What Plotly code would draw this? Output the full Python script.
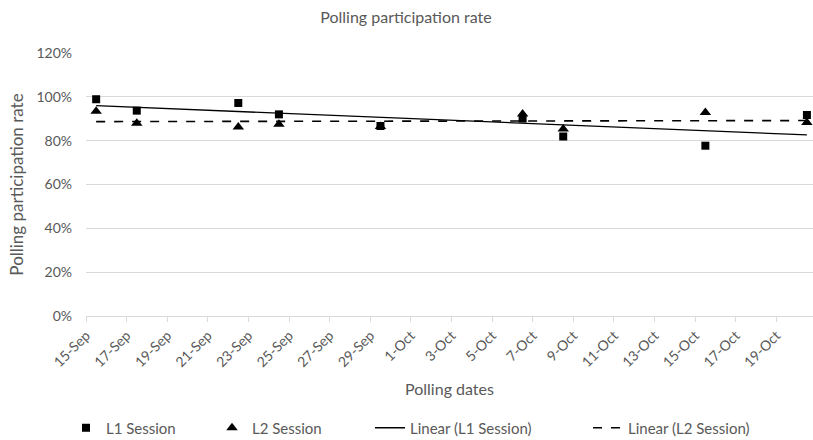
import numpy as np
import pandas as pd
import plotly.graph_objects as go

# ---- data ----
dates = ["2021-09-15", "2021-09-17", "2021-09-22", "2021-09-24", "2021-09-29",
         "2021-10-06", "2021-10-08", "2021-10-15", "2021-10-20"]
l1_session = [0.989, 0.937, 0.972, 0.920, 0.867, 0.901, 0.819, 0.777, 0.917]
l2_session = [0.934, 0.879, 0.862, 0.875, 0.865, 0.922, 0.853, 0.929, 0.883]
tick_step_days = 2

TXT = "#595959"
GRID = "#d9d9d9"
FONT = "Lato, 'Open Sans', sans-serif"

# ---- linear trendlines (least squares on day number, like Excel) ----
d = pd.to_datetime(dates)
days = np.array([(x - d[0]).days for x in d], dtype=float)
c1 = np.polyfit(days, l1_session, 1)
c2 = np.polyfit(days, l2_session, 1)
trend_x = [dates[0], dates[-1]]
trend1 = [np.polyval(c1, days[0]), np.polyval(c1, days[-1])]
trend2 = [np.polyval(c2, days[0]), np.polyval(c2, days[-1])]

period = dict(xperiod=86400000, xperiodalignment="middle")

fig = go.Figure()
fig.add_trace(go.Scatter(x=trend_x, y=trend1, mode="lines", name="Linear (L1 Session)",
                         line=dict(color="black", width=1.3), legend="legend3",
                         cliponaxis=False, **period))
fig.add_trace(go.Scatter(x=trend_x, y=trend2, mode="lines", name="Linear (L2 Session)",
                         line=dict(color="black", width=1.6, dash="dash"), legend="legend4",
                         cliponaxis=False, **period))
fig.add_trace(go.Scatter(x=dates, y=l1_session, mode="markers", name="L1 Session",
                         marker=dict(symbol="square", size=8, color="black"), legend="legend",
                         cliponaxis=False, **period))
fig.add_trace(go.Scatter(x=dates, y=l2_session, mode="markers", name="L2 Session",
                         marker=dict(symbol="triangle-up", size=10, color="black"), legend="legend2",
                         cliponaxis=False, **period))

x0 = pd.Timestamp(dates[0])
x1 = x0 + pd.Timedelta(days=35.8)

W, H = 813, 440
L, R, T, B = 86, 0, 53, H - 316

leg_y = 1 - 428 / H
leg_common = dict(orientation="h", yanchor="middle", xanchor="left",
                  xref="container", yref="container",
                  font=dict(family=FONT, size=15, color=TXT),
                  bgcolor="rgba(0,0,0,0)", borderwidth=0)

fig.update_layout(
    width=W, height=H, showlegend=True,
    margin=dict(l=L, r=R, t=T, b=B, autoexpand=False),
    plot_bgcolor="white", paper_bgcolor="white",
    title=dict(text="Polling participation rate", x=406 / W, xref="container",
               xanchor="center", y=1 - 17 / H, yanchor="middle", yref="container",
               font=dict(family=FONT, size=16, color=TXT)),
    xaxis=dict(type="date", range=[x0, x1], tickformat="%-d-%b", automargin=False,
               tick0=dates[0], dtick=86400000 * tick_step_days, tickangle=-45,
               showgrid=False, showline=True, linecolor=GRID, linewidth=1,
               ticks="outside", ticklen=5, tickcolor=GRID,
               tickfont=dict(family=FONT, size=14, color=TXT),
               title=dict(text="Polling dates", font=dict(family=FONT, size=16, color=TXT),
                          standoff=14),
               zeroline=False),
    yaxis=dict(range=[0, 1.2], dtick=0.2, tickformat=".0%", showgrid=True, gridcolor=GRID,
               gridwidth=1, zeroline=False, showline=False, ticks="", automargin=False,
               ticklabelstandoff=13,
               tickfont=dict(family=FONT, size=14, color=TXT),
               title=dict(text="Polling participation rate",
                          font=dict(family=FONT, size=17, color=TXT), standoff=8)),
    legend=dict(x=66 / W, y=leg_y, **leg_common),
    legend2=dict(x=212 / W, y=leg_y, **leg_common),
    legend3=dict(x=370 / W, y=leg_y, **leg_common),
    legend4=dict(x=588 / W, y=leg_y, **leg_common),
)

fig.write_html("out.html",
               config={"displayModeBar": False},
               post_script="document.body.style.margin='0';document.body.style.overflow='hidden';")
